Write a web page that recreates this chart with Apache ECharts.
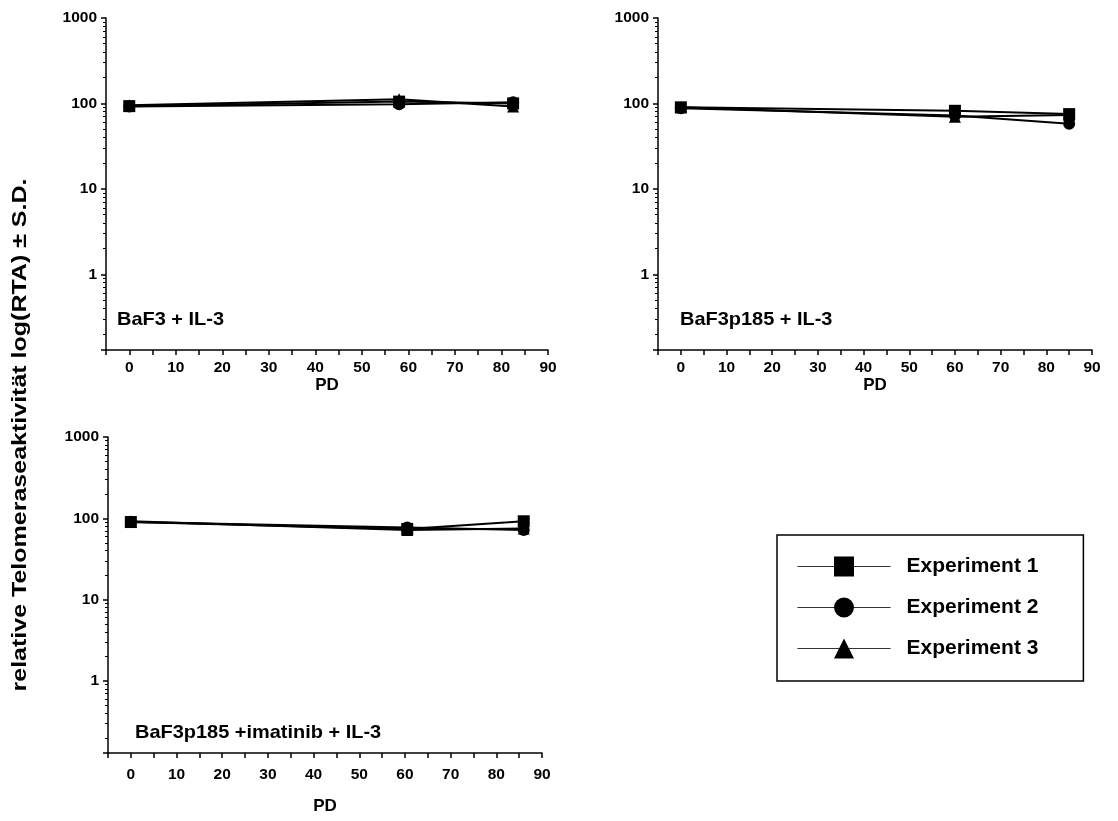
<!DOCTYPE html>
<html>
<head>
<meta charset="utf-8">
<script src="https://cdn.jsdelivr.net/npm/echarts@6/dist/echarts.min.js"></script>
<style>
  html, body { margin: 0; padding: 0; background: #fff; }
  #chart { width: 1118px; height: 821px; }
</style>
</head>
<body>
<div id="chart"></div>
<script>
// PD values (x) per panel
var pdBaF3 = [0, 58, 82.5];
var pdP185 = [0, 60, 85];
var pdImatinib = [0, 60.5, 86];

// relative telomerase activity per experiment
var baf3Exp1 = [93, 105, 100];
var baf3Exp2 = [92, 98, 103];
var baf3Exp3 = [95, 112, 92];

var p185Exp1 = [90, 82, 75];
var p185Exp2 = [88, 72, 58];
var p185Exp3 = [90, 70, 73];

var imaExp1 = [90, 74, 92];
var imaExp2 = [90, 77, 72];
var imaExp3 = [92, 72, 75];

var panelLabels = ['BaF3 + IL-3', 'BaF3p185 + IL-3', 'BaF3p185 +imatinib + IL-3'];
var seriesNames = ['Experiment 1', 'Experiment 2', 'Experiment 3'];
var yTickLabels = [1, 10, 100, 1000];

var font = 'Liberation Sans, Arial, sans-serif';

function pairs(xs, ys) {
    var out = [];
    for (var i = 0; i < xs.length; i++) {
        out.push([xs[i], ys[i]]);
    }
    return out;
}

var grids = [
    {left: 106, top: 18, width: 442, height: 332},
    {left: 658, top: 18, width: 434, height: 332},
    {left: 108, top: 437, width: 434, height: 316}
];

function xAxisFor(i, margin, gap) {
    return {
        gridIndex: i,
        type: 'value',
        min: -5,
        max: 90,
        interval: 5,
        name: 'PD',
        nameLocation: 'middle',
        nameGap: gap,
        nameTextStyle: {fontFamily: font, fontWeight: 'bold', fontSize: 17, color: '#000'},
        axisLine: {onZero: false, lineStyle: {color: '#000', width: 1.5}},
        axisTick: {show: true, length: 5, lineStyle: {color: '#000', width: 1.5}},
        splitLine: {show: false},
        axisLabel: {
            fontFamily: font, fontWeight: 'bold', fontSize: 15.5, color: '#000', margin: margin,
            formatter: function (v) { return v % 10 === 0 ? String(v) : ''; }
        }
    };
}

function yAxisFor(i) {
    return {
        gridIndex: i,
        type: 'log',
        logBase: 10,
        min: 0.13,
        max: 1000,
        axisLine: {show: true, onZero: false, lineStyle: {color: '#000', width: 1.5}},
        axisTick: {show: true, length: 5, lineStyle: {color: '#000', width: 1.5}},
        minorTick: {show: true, splitNumber: 9, length: 3, lineStyle: {color: '#000', width: 1}},
        splitLine: {show: false},
        minorSplitLine: {show: false},
        axisLabel: {
            fontFamily: font, fontWeight: 'bold', fontSize: 15.5, color: '#000', margin: 9,
            formatter: function (v) {
                for (var k = 0; k < yTickLabels.length; k++) {
                    if (Math.abs(v - yTickLabels[k]) < 1e-6 * yTickLabels[k]) return String(yTickLabels[k]);
                }
                return '';
            }
        }
    };
}

var symbols = ['rect', 'circle', 'triangle'];
var panelData = [
    [pairs(pdBaF3, baf3Exp1), pairs(pdBaF3, baf3Exp2), pairs(pdBaF3, baf3Exp3)],
    [pairs(pdP185, p185Exp1), pairs(pdP185, p185Exp2), pairs(pdP185, p185Exp3)],
    [pairs(pdImatinib, imaExp1), pairs(pdImatinib, imaExp2), pairs(pdImatinib, imaExp3)]
];

var series = [];
for (var p = 0; p < panelData.length; p++) {
    for (var s = 0; s < 3; s++) {
        series.push({
            name: seriesNames[s],
            type: 'line',
            xAxisIndex: p,
            yAxisIndex: p,
            data: panelData[p][s],
            symbol: symbols[s],
            symbolSize: 12,
            showAllSymbol: true,
            lineStyle: {color: '#000', width: 2},
            itemStyle: {color: '#000'},
            animation: false
        });
    }
}

// panel captions
var labelPos = [[117, 320], [680, 320], [135, 733]];
var graphics = [];
for (var g = 0; g < panelLabels.length; g++) {
    graphics.push({
        type: 'text',
        x: labelPos[g][0],
        y: labelPos[g][1],
        scaleX: 1.05,
        style: {text: panelLabels[g], font: 'bold 19px ' + font, fill: '#000', align: 'left', verticalAlign: 'middle'}
    });
}
graphics.push({
    type: 'text',
    x: 20,
    y: 435,
    rotation: Math.PI / 2,
    scaleX: 1.25,
    style: {
        text: 'relative Telomeraseaktivität log(RTA) ± S.D.',
        font: 'bold 20px ' + font,
        fill: '#000',
        align: 'center',
        verticalAlign: 'middle'
    }
});

var chart = echarts.init(document.getElementById('chart'), null, {renderer: 'canvas'});
chart.setOption({
    backgroundColor: '#fff',
    animation: false,
    grid: grids,
    xAxis: [xAxisFor(0, 10, 27), xAxisFor(1, 10, 27), xAxisFor(2, 14, 45)],
    yAxis: [yAxisFor(0), yAxisFor(1), yAxisFor(2)],
    legend: {
        data: seriesNames,
        orient: 'vertical',
        left: 777,
        top: 535,
        padding: [21, 45, 22, 20],
        itemWidth: 93,
        itemHeight: 25,
        itemGap: 20,
        borderColor: '#000',
        borderWidth: 1.5,
        selectedMode: false,
        lineStyle: {width: 1, color: '#333'},
        textStyle: {fontFamily: font, fontWeight: 'bold', fontSize: 21, color: '#000', padding: [0, 0, 0, 11]}
    },
    graphic: graphics,
    series: series
});
</script>
</body>
</html>
